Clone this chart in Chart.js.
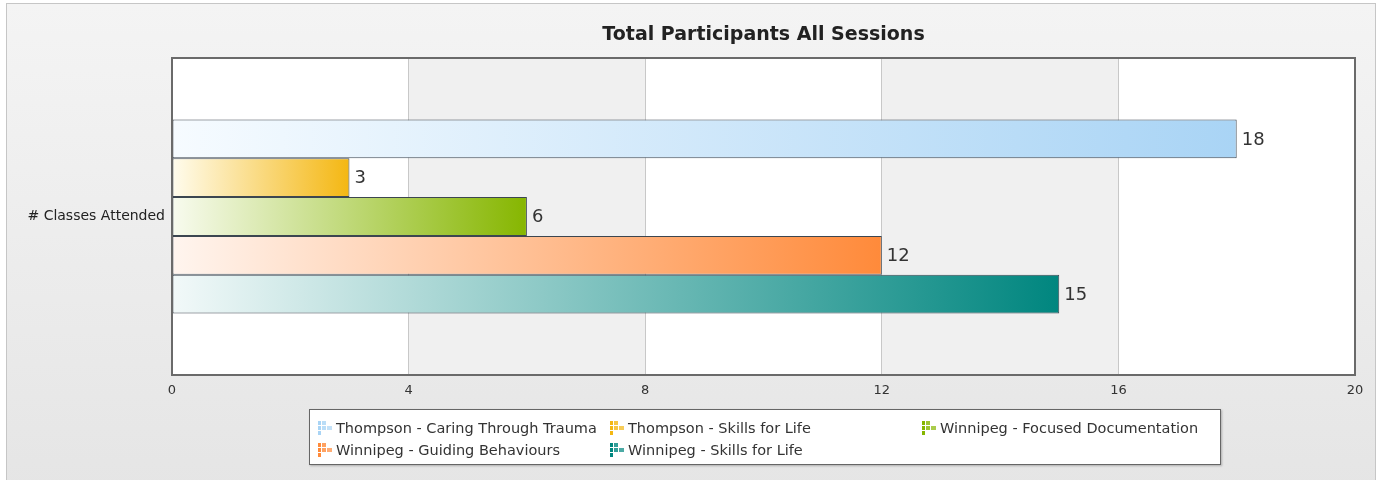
<!DOCTYPE html>
<html>
<head>
<meta charset="utf-8">
<script src="https://cdn.jsdelivr.net/npm/chart.js@4.4.0/dist/chart.umd.min.js"></script>
<style>
  html, body { margin: 0; padding: 0; width: 1381px; height: 480px; overflow: hidden; background: #fff; }
  #panel {
    position: absolute; left: 6px; top: 3px; width: 1368px; height: 490px;
    border: 1px solid #c6c6c6;
    background: linear-gradient(#f4f4f4, #e5e5e5);
  }
  #wrap { position: absolute; left: 0; top: 0; width: 1381px; height: 480px; }
  #legend {
    position: absolute; left: 309px; top: 409px; width: 912px; height: 56px;
    border: 1px solid #666; background: #fff;
    box-shadow: 1px 1px 2px rgba(0,0,0,.25);
    display: grid; grid-template-columns: 292px 312px auto;
    grid-auto-rows: 22px; padding: 7px 0 0 8px; box-sizing: border-box;
    font: 14.5px "DejaVu Sans", Verdana, sans-serif; color: #333;
  }
  .item { display: flex; align-items: center; white-space: nowrap; }
  .item svg { margin-right: 4px; flex: none; }
</style>
</head>
<body>
<div id="panel"></div>
<div id="wrap"><canvas id="chart" width="1381" height="480"></canvas></div>
<div id="legend"></div>
<script>
/* ─── Data ─── */
const categories = ['# Classes Attended'];
const seriesNames = [
  'Thompson - Caring Through Trauma',
  'Thompson - Skills for Life',
  'Winnipeg - Focused Documentation',
  'Winnipeg - Guiding Behaviours',
  'Winnipeg - Skills for Life'
];
const seriesValues = [18, 3, 6, 12, 15];
const xTicks = [0, 4, 8, 12, 16, 20];

/* ─── Colours: [light start, full end] ─── */
const seriesColors = [
  ['#f6fbff', '#a9d4f5'],
  ['#fffcee', '#f4b712'],
  ['#f8fbef', '#86b600'],
  ['#fff5ef', '#ff8a3a'],
  ['#f2f9f9', '#00867f']
];

const FONT = '"DejaVu Sans", Verdana, sans-serif';

function barGradient(ctx, i) {
  const chart = ctx.chart;
  const area = chart.chartArea;
  if (!area) return seriesColors[i][1];
  const xs = chart.scales.x;
  const x0 = xs.getPixelForValue(0);
  const x1 = xs.getPixelForValue(seriesValues[i]);
  const g = chart.ctx.createLinearGradient(x0, 0, x1, 0);
  g.addColorStop(0, seriesColors[i][0]);
  g.addColorStop(1, seriesColors[i][1]);
  return g;
}

/* ─── Plot background bands, frame, title, value labels ─── */
const decor = {
  id: 'decor',
  beforeDraw(chart) {
    const { ctx, chartArea: a, scales: { x } } = chart;
    ctx.save();
    ctx.fillStyle = '#fff';
    ctx.fillRect(a.left, a.top, a.right - a.left, a.bottom - a.top);
    ctx.fillStyle = '#f0f0f0';
    [[4, 8], [12, 16]].forEach(([s, e]) => {
      const p0 = x.getPixelForValue(s), p1 = x.getPixelForValue(e);
      ctx.fillRect(p0, a.top, p1 - p0, a.bottom - a.top);
    });
    ctx.fillStyle = '#222';
    ctx.font = 'bold 19px ' + FONT;
    ctx.textAlign = 'center';
    ctx.textBaseline = 'middle';
    ctx.fillText('Total Participants All Sessions', (a.left + a.right) / 2, 35);
    ctx.restore();
  },
  afterDatasetsDraw(chart) {
    const { ctx, chartArea: a } = chart;
    ctx.save();
    ctx.font = '18px ' + FONT;
    ctx.fillStyle = '#333';
    ctx.textAlign = 'left';
    ctx.textBaseline = 'middle';
    chart.data.datasets.forEach((ds, i) => {
      const el = chart.getDatasetMeta(i).data[0];
      ctx.fillText(String(ds.data[0]), el.x + 5, el.y + 1);
    });
    ctx.strokeStyle = '#6a6a6a';
    ctx.lineWidth = 2;
    ctx.strokeRect(a.left, a.top, a.right - a.left, a.bottom - a.top);
    ctx.restore();
  }
};

new Chart(document.getElementById('chart'), {
  type: 'bar',
  data: {
    labels: categories,
    datasets: seriesNames.map((name, i) => ({
      label: name,
      data: [seriesValues[i]],
      backgroundColor: ctx => barGradient(ctx, i),
      borderColor: '#3c4650',
      borderWidth: 1,
      borderSkipped: false,
      categoryPercentage: 0.612,
      barPercentage: 1
    }))
  },
  options: {
    indexAxis: 'y',
    responsive: false,
    animation: false,
    layout: { padding: { left: 0, top: 58, right: 26, bottom: 75 } },
    plugins: { legend: { display: false }, tooltip: { enabled: false }, title: { display: false } },
    scales: {
      x: {
        min: 0, max: 20,
        afterFit: s => { s.height = 30; },
        afterBuildTicks: s => { s.ticks = xTicks.map(v => ({ value: v })); },
        grid: {
          color: c => (c.tick && (c.tick.value === 0 || c.tick.value === 20)) ? 'rgba(0,0,0,0)' : '#c8c8c8',
          drawTicks: false
        },
        border: { display: false },
        ticks: { padding: 8, color: '#333', font: { family: FONT, size: 13 } }
      },
      y: {
        afterFit: s => { s.width = 172; },
        grid: { display: false, drawTicks: false },
        border: { display: false },
        ticks: { padding: 7, color: '#222', font: { family: FONT, size: 14 } }
      }
    }
  },
  plugins: [decor]
});

/* ─── HTML legend ─── */
function icon(color) {
  return '<svg width="14" height="16" viewBox="0 0 14 16">' +
    '<rect x="0" y="1" width="3" height="4" fill="' + color + '"/>' +
    '<rect x="4" y="1" width="4" height="4" fill="' + color + '" opacity=".8"/>' +
    '<rect x="0" y="6" width="3" height="4" fill="' + color + '"/>' +
    '<rect x="4" y="6" width="4" height="4" fill="' + color + '" opacity=".8"/>' +
    '<rect x="9" y="6" width="5" height="4" fill="' + color + '" opacity=".7"/>' +
    '<rect x="0" y="11" width="3" height="4" fill="' + color + '"/>' +
    '</svg>';
}
const legend = document.getElementById('legend');
seriesNames.forEach((name, i) => {
  const d = document.createElement('div');
  d.className = 'item';
  d.innerHTML = icon(seriesColors[i][1]) + '<span>' + name + '</span>';
  legend.appendChild(d);
});
</script>
</body>
</html>
